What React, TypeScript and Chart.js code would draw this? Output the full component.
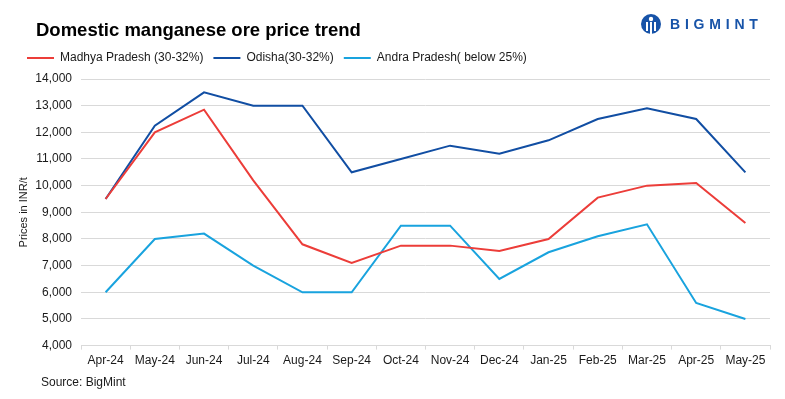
import React, { useEffect, useRef } from "react";
import { Chart, registerables } from "chart.js";

Chart.register(...registerables);

const categories = ["Apr-24", "May-24", "Jun-24", "Jul-24", "Aug-24", "Sep-24", "Oct-24", "Nov-24", "Dec-24", "Jan-25", "Feb-25", "Mar-25", "Apr-25", "May-25"];
const madhyaPradesh = [9500, 12000, 12850, 10200, 7800, 7100, 7750, 7750, 7550, 8000, 9550, 10000, 10100, 8600];
const odisha = [9500, 12250, 13500, 13000, 13000, 10500, 11000, 11500, 11200, 11700, 12500, 12900, 12500, 10500];
const andraPradesh = [6000, 8000, 8200, 7000, 6000, 6000, 8500, 8500, 6500, 7500, 8100, 8550, 5600, 5000];
const seriesNames = ["Madhya Pradesh (30-32%)", "Odisha(30-32%)", "Andra Pradesh( below 25%)"];
const seriesColors = ["#EC3D39", "#114EA3", "#19A3DE"];
const yMin = 4000;
const yMax = 14000;
const yStep = 1000;

const legendGap = {
  id: "legendGap",
  afterInit(chart: any) {
    const lg = chart.legend;
    if (!lg) return;
    const orig = lg.fit;
    lg.fit = function () {
      orig.call(this);
      this.height += 5;
    };
  },
};

export default function App() {
  const ref = useRef<HTMLCanvasElement | null>(null);
  useEffect(() => {
    if (!ref.current) return;
    const font = "'Liberation Sans', Arial, sans-serif";
    const chart = new Chart(ref.current, {
      type: "line",
      plugins: [legendGap],
      data: {
        labels: categories,
        datasets: [madhyaPradesh, odisha, andraPradesh].map((d, i) => ({
          label: seriesNames[i],
          data: d,
          borderColor: seriesColors[i],
          backgroundColor: seriesColors[i],
          borderWidth: 2,
          pointRadius: 0,
          tension: 0,
          fill: false,
        })),
      },
      options: {
        responsive: false,
        animation: false,
        layout: { padding: { left: 17, right: 15, top: 42, bottom: 27 } },
        plugins: {
          tooltip: { enabled: false },
          title: { display: false },
          legend: {
            display: true,
            position: "top",
            align: "start",
            labels: {
              boxWidth: 27,
              boxHeight: 2,
              padding: 10,
              color: "#1a1a1a",
              font: { family: font, size: 12 },
              generateLabels: (c: any) =>
                Chart.defaults.plugins.legend.labels.generateLabels(c).map((l: any) => ({ ...l, lineWidth: 0 })),
            },
          },
        },
        scales: {
          x: {
            offset: true,
            grid: {
              display: true,
              offset: true,
              drawOnChartArea: false,
              drawTicks: true,
              tickLength: 4,
              color: "#d9d9d9",
            },
            border: { display: true, color: "#d9d9d9" },
            ticks: {
              color: "#1a1a1a",
              font: { family: font, size: 12 },
              padding: 4,
              maxRotation: 0,
              autoSkip: false,
            },
          },
          y: {
            min: yMin,
            max: yMax,
            afterFit: (s: any) => {
              s.width = 64;
            },
            grid: { color: "#d9d9d9", drawTicks: false, lineWidth: 1 },
            border: { display: false },
            ticks: {
              stepSize: yStep,
              padding: 9,
              color: "#1a1a1a",
              font: { family: font, size: 12 },
              callback: (v: any) => Number(v).toLocaleString("en-US"),
            },
            title: {
              display: true,
              text: "Prices in INR/t",
              color: "#1a1a1a",
              font: { family: font, size: 11 },
              padding: { top: 0, bottom: 0 },
            },
          },
        },
      },
    });
    return () => chart.destroy();
  }, []);

  return (
    <div style={{ position: "fixed", left: 0, top: 0, width: 785, height: 399, background: "#fff", overflow: "hidden" }}>
      <canvas ref={ref} width={785} height={399} style={{ position: "absolute", left: 0, top: 0 }} />
      <div
        style={{
          position: "absolute",
          left: 36,
          top: 20,
          fontFamily: "'Liberation Sans', Arial, sans-serif",
          fontWeight: 700,
          fontSize: 18.5,
          lineHeight: "19px",
          color: "#000",
          whiteSpace: "nowrap",
        }}
      >
        Domestic manganese ore price trend
      </div>
      <div style={{ position: "absolute", left: 640, top: 13, display: "flex", alignItems: "center" }}>
        <svg width="22" height="22" viewBox="0 0 22 22">
          <circle cx="11" cy="11" r="10" fill="#1753A8" />
          <circle cx="11" cy="6" r="2.2" fill="#fff" />
          <rect x="6" y="9" width="2" height="9" fill="#fff" />
          <rect x="10" y="9" width="2" height="12" fill="#fff" />
          <rect x="14" y="9" width="2" height="9" fill="#fff" />
        </svg>
        <span
          style={{
            marginLeft: 8,
            fontFamily: "'Liberation Sans', Arial, sans-serif",
            fontWeight: 700,
            fontSize: 14,
            letterSpacing: 4.8,
            color: "#1753A8",
          }}
        >
          BIGMINT
        </span>
      </div>
      <div
        style={{
          position: "absolute",
          left: 41,
          top: 375,
          fontFamily: "'Liberation Sans', Arial, sans-serif",
          fontSize: 12,
          lineHeight: "14px",
          color: "#1a1a1a",
        }}
      >
        Source: BigMint
      </div>
    </div>
  );
}
